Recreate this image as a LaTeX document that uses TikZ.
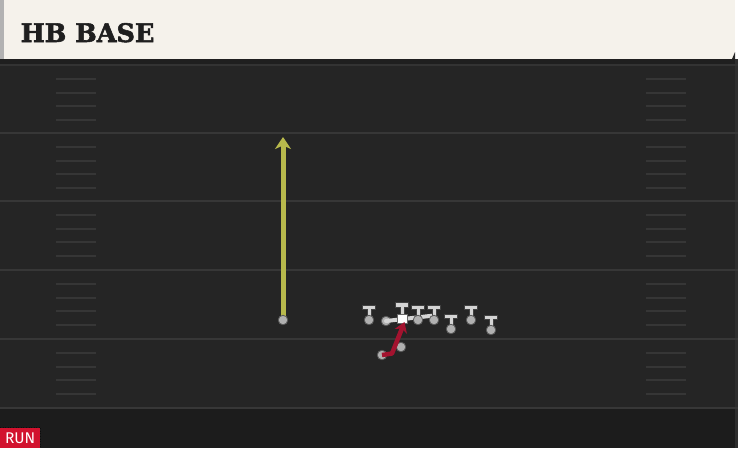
\documentclass[tikz,border=0pt]{standalone}
\usepackage{fontspec}
\usetikzlibrary{arrows.meta}
\newfontfamily\titlefont{DejaVu Serif}[FakeBold=2.2]
\newfontfamily\tagfont{Fira Sans}
\definecolor{cream}{HTML}{F5F2EB}
\definecolor{field}{HTML}{252525}
\definecolor{yardc}{HTML}{373737}
\definecolor{hashc}{HTML}{363636}
\definecolor{tcol}{HTML}{D4D4D4}
\definecolor{plfill}{HTML}{B0B0B0}
\definecolor{pledge}{HTML}{5A5A5A}
\definecolor{routey}{HTML}{B8B94C}
\definecolor{router}{HTML}{A3132F}
\definecolor{runred}{HTML}{D2122E}
\tikzset{
  yard/.style={draw=yardc,line width=2.2pt},
  hashm/.style={draw=hashc,line width=2pt},
  pl/.style={circle,fill=plfill,draw=pledge,line width=0.8pt,minimum size=9.5pt,inner sep=0pt},
  tshape/.style={fill=tcol,draw=black!75,line width=0.8pt},
  centersq/.style={rectangle,fill=white,draw=black!60,line width=0.5pt,minimum size=9.5pt,inner sep=0pt},
  blockln/.style={draw=tcol,line width=4pt,line cap=round},
  yroute/.style={draw=routey,line width=5pt,-{Stealth[length=12pt,width=16pt,inset=3.5pt]}},
  rroute/.style={draw=router,line width=4.5pt,line join=round,-{Stealth[length=10pt,width=13pt,inset=3pt]}},
}
\newcommand\tbody[2]{%
  \path[tshape] (#1-6.5,#2-15) -- (#1+6.5,#2-15) -- (#1+6.5,#2-10.5) -- (#1+2,#2-10.5) -- (#1+2,#2-4) -- (#1-2,#2-4) -- (#1-2,#2-10.5) -- (#1-6.5,#2-10.5) -- cycle;}
\begin{document}
\begin{tikzpicture}[x=1pt,y=-1pt]
\useasboundingbox (0,0) rectangle (738,448);
% field
\fill[field] (0,59) rectangle (738,448);
\fill[black!88] (0,59) rectangle (738,63.5);
\fill[black!89] (0,408) rectangle (738,448);
\fill[black!82] (735,59) rectangle (738,448);
% header
\fill[cream] (0,0) rectangle (735,59);
\fill[black!30] (0,0) rectangle (4,59);
\fill[black!85] (732,59) -- (735,52) -- (735,59) -- cycle;
\node[font=\titlefont\bfseries\fontsize{25.5}{25.5}\selectfont,text=black!88,anchor=base west,inner sep=0pt] (title) at (20.5,42) {HB BASE};
% yard lines
\draw[draw=black!80,line width=1.5pt] (0,65) -- (738,65);
\foreach \yy in {133,201,270,339,408} {\draw[yard] (0,\yy) -- (738,\yy);}
% hash marks
\foreach \base in {65,133,201,270,339} {
  \foreach \off in {14,27.5,41,55} {
    \draw[hashm] (56,\base+\off) -- (96,\base+\off);
    \draw[hashm] (646,\base+\off) -- (686,\base+\off);
  }
}
% blocking line
\coordinate (blkend) at (434,315.5);
\node[pl] (lg) at (386,321) {};
\draw[blockln] (lg.center) -- (blkend);
% T players
\tbody{369}{320} \node[pl] (t1) at (369,320) {};
\path[tshape] (395.5,302.5) -- (408.5,302.5) -- (408.5,307) -- (404,307) -- (404,314) -- (400,314) -- (400,307) -- (395.5,307) -- cycle;
\node[centersq] (ctr) at (402,318.5) {};
\tbody{418}{320} \node[pl] (t3) at (418,320) {};
\tbody{434}{320} \node[pl] (t4) at (434,320) {};
\tbody{451}{329} \node[pl] (t5) at (451,329) {};
\tbody{471}{320} \node[pl] (t6) at (471,320) {};
\tbody{491}{330} \node[pl] (t7) at (491,330) {};
% backs
\node[pl] (qb) at (401,347) {};
\node[pl] (rb) at (382,355) {};
\coordinate (rbcut) at (392,353.5);
\coordinate (rbend) at (404.5,322);
\draw[rroute] (rb.center) -- (rbcut) -- (rbend);
% receiver
\coordinate (wrend) at (283,137);
\draw[yroute] (283,320) -- (wrend);
\node[pl] (wr) at (283,320) {};
% RUN tag
\draw[black!95,dotted,line width=0.6pt] (0,427) -- (40.5,427) -- (40.5,448);
\node[fill=runred,text=white,font=\tagfont\fontsize{15.5}{15.5}\selectfont,anchor=south west,minimum width=40pt,minimum height=20pt,inner sep=0pt] (run) at (0,448) {RUN};
\end{tikzpicture}
\end{document}
